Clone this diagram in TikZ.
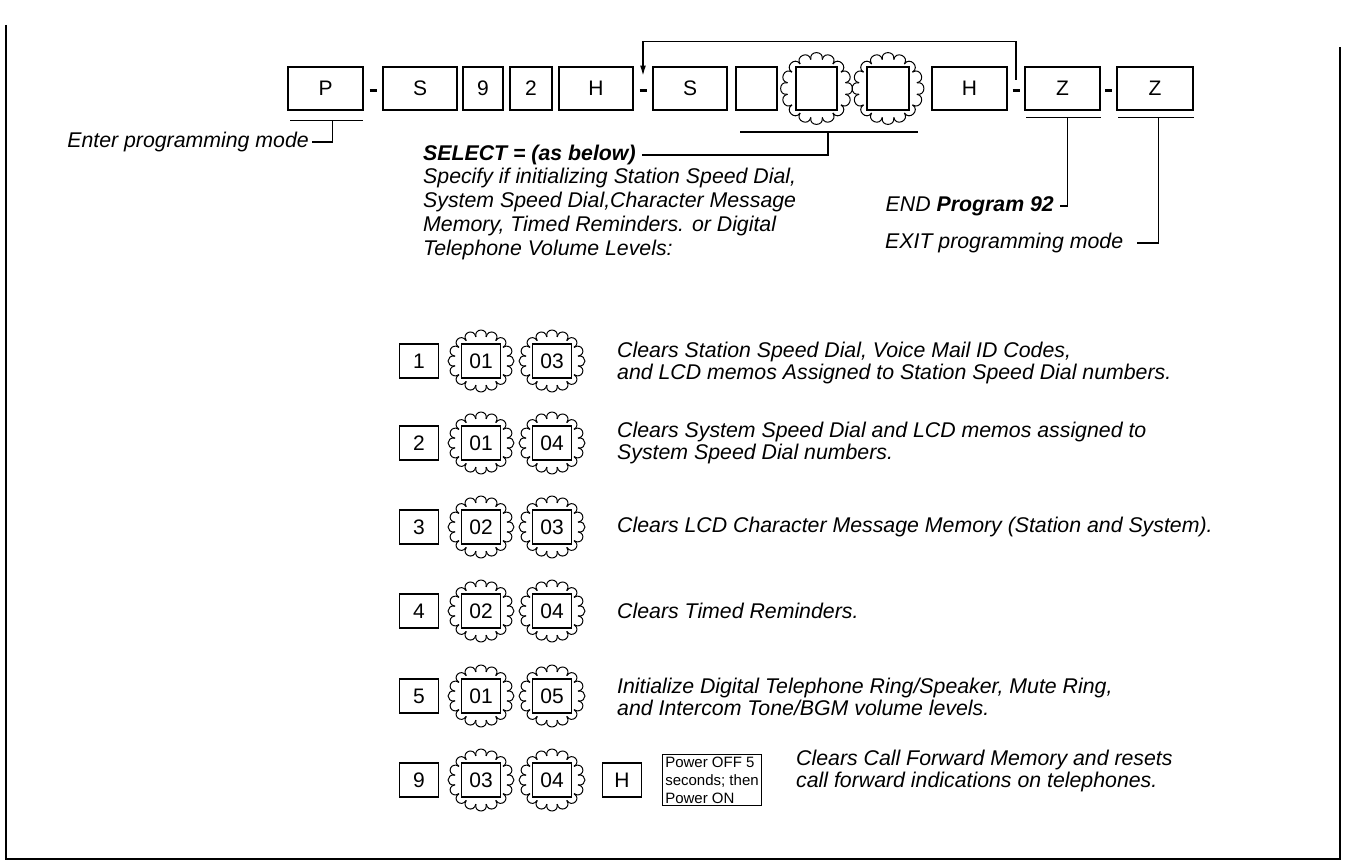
\documentclass[tikz,border=0pt]{standalone}
\usepackage{fontspec}
\setmainfont{Liberation Sans}
\usetikzlibrary{arrows.meta,calc}
% scalloped outline: x y rx ry bump n
\newcommand{\burstat}[6]{%
  \pgfmathsetmacro{\stp}{360/#6}%
  \foreach \k in {1,...,#6}{%
    \pgfmathsetmacro{\aa}{\k*\stp+0.5*\stp}%
    \pgfmathsetmacro{\bb}{\aa+\stp}%
    \draw[burstline] ({#1+#3*cos(\aa)},{#2+#4*sin(\aa)}) .. controls ({#1+(#3+1.35*#5)*cos(\aa)},{#2+(#4+1.35*#5)*sin(\aa)}) and ({#1+(#3+1.35*#5)*cos(\bb)},{#2+(#4+1.35*#5)*sin(\bb)}) .. ({#1+#3*cos(\bb)},{#2+#4*sin(\bb)});
  }%
}
\tikzset{
  keybox/.style={draw, line width=1.5pt, inner sep=0pt, font=\fontsize{21}{21}\selectfont},
  rowkey/.style={keybox, minimum width=39pt, minimum height=34pt},
  burstline/.style={line width=1pt},
  desc/.style={font=\fontsize{21.3}{22}\selectfont\itshape, align=left, inner sep=0pt},
  conn/.style={line width=1.2pt},
  dashbar/.style={line width=3pt},
}
\newcommand{\topkey}[4]{\node[keybox, minimum width=#3pt, minimum height=43pt] (#1) at (#2,88.5) {#4};}
\newcommand{\optrow}[5]{%
  \burstat{481}{#2}{26.5}{24.5}{7}{16}
  \burstat{552}{#2}{26.5}{24.5}{7}{16}
  \node[rowkey] (n#1) at (419,#2) {#3};
  \node[rowkey, fill=white] (a#1) at (481,#2) {#4};
  \node[rowkey, fill=white] (b#1) at (552,#2) {#5};
}
\begin{document}
\begin{tikzpicture}[x=1pt,y=-1pt]
\useasboundingbox (0,0) rectangle (1348,867);
% frame
\draw[line width=1.6pt] (6,25) -- (6,859) -- (1340,859) -- (1340,47);

% top row
\burstat{816.5}{88.5}{29.5}{29.5}{7}{16}
\burstat{888}{88.5}{29.5}{29.5}{7}{16}
\topkey{P}{325.5}{75}{P}
\topkey{S1}{420}{74}{S}
\topkey{K9}{483}{40}{9}
\topkey{K2}{531}{42}{2}
\topkey{H1}{596}{74}{H}
\topkey{S2}{690}{74}{S}
\topkey{BL}{756.5}{41}{}
\node[keybox, fill=white, minimum width=41pt, minimum height=43pt] (Q1) at (816.5,88.5) {};
\node[keybox, fill=white, minimum width=42pt, minimum height=43pt] (Q2) at (888,88.5) {};
\topkey{H2}{969.5}{75}{H}
\topkey{Z1}{1062.5}{75}{Z}
\topkey{Z2}{1155}{76}{Z}

\coordinate (d1) at ($(P.east)!0.5!(S1.west)$);
\coordinate (d2) at ($(H1.east)!0.5!(S2.west)$);
\coordinate (d3) at ($(H2.east)!0.5!(Z1.west)$);
\coordinate (d4) at ($(Z1.east)!0.5!(Z2.west)$);
\foreach \d in {d1,d2,d3,d4}{\draw[dashbar] ($(\d)+(-3.5,2)$) -- ($(\d)+(3.5,2)$);}

% loop-back arrow
\draw[conn, -{Latex[length=10pt,width=6pt]}] ($(d3)+(0,-9)$) -- ++(0,-38) -| ($(d2)+(0,-13)$);

% Enter programming mode
\node[desc, anchor=east] (enter) at (309,142) {Enter programming mode};
\coordinate (pu1) at ($(P.south west)+(3,10)$);
\coordinate (pu2) at ($(P.south east)+(-1,10)$);
\draw[conn] (pu1) -- (pu2);
\draw[conn] ($(pu1)!0.58!(pu2)$) |- ($(enter.east)+(3,0)$);

% SELECT
\coordinate (su1) at (740,132);
\coordinate (su2) at (918,132);
\draw[conn] (su1) -- (su2);
\node[desc, anchor=west, font=\fontsize{21.3}{22}\selectfont\bfseries\itshape] (selh) at (423,155) {SELECT = (as below)};
\node[desc, anchor=north west, font=\fontsize{21.3}{24}\selectfont\itshape] (seltxt) at (423,168) {Specify if initializing Station Speed Dial,\\System Speed Dial,Character Message\\Memory, Timed Reminders. or Digital\\Telephone Volume Levels:};
\draw[conn] ($(selh.east)+(6,0)$) -| ($(su1)!0.494!(su2)$);

% END / EXIT
\node[desc, anchor=east] (endn) at (1054,206) {END \textbf{Program 92}};
\node[desc, anchor=west] (exitn) at (885,243) {EXIT programming mode};
\coordinate (zu1) at ($(Z1.south west)+(2,7)$);
\coordinate (zu2) at ($(Z1.south east)+(0,7)$);
\coordinate (zv1) at ($(Z2.south west)+(2,7)$);
\coordinate (zv2) at ($(Z2.south east)+(0,7)$);
\draw[conn] (zu1) -- (zu2);
\draw[conn] (zv1) -- (zv2);
\draw[conn] ($(zu1)!0.55!(zu2)$) |- ($(endn.east)+(6,0)$);
\draw[conn] ($(zv1)!0.53!(zv2)$) |- ($(exitn.east)+(14,0)$);

% option rows
\optrow{1}{361}{1}{01}{03}
\optrow{2}{443}{2}{01}{04}
\optrow{3}{527}{3}{02}{03}
\optrow{4}{611}{4}{02}{04}
\optrow{5}{696}{5}{01}{05}
\optrow{6}{780}{9}{03}{04}
\node[rowkey] (h6) at (622,780) {H};
\node[draw, line width=1.3pt, font=\fontsize{15}{18}\selectfont, align=left, inner sep=2.5pt] (pw) at (712,780) {Power OFF 5\\seconds; then\\Power ON};

\node[desc, anchor=west] (t1) at (617,363) {Clears Station Speed Dial, Voice Mail ID Codes,\\and LCD memos Assigned to Station Speed Dial numbers.};
\node[desc, anchor=west] (t2) at (617,443) {Clears System Speed Dial and LCD memos assigned to\\System Speed Dial numbers.};
\node[desc, anchor=west] (t3) at (617,527) {Clears LCD Character Message Memory (Station and System).};
\node[desc, anchor=west] (t4) at (617,611) {Clears Timed Reminders.};
\node[desc, anchor=west] (t5) at (617,697) {Initialize Digital Telephone Ring/Speaker, Mute Ring,\\and Intercom Tone/BGM volume levels.};
\node[desc, anchor=west] (t6) at (796,771) {Clears Call Forward Memory and resets\\call forward indications on telephones.};
\end{tikzpicture}
\end{document}
